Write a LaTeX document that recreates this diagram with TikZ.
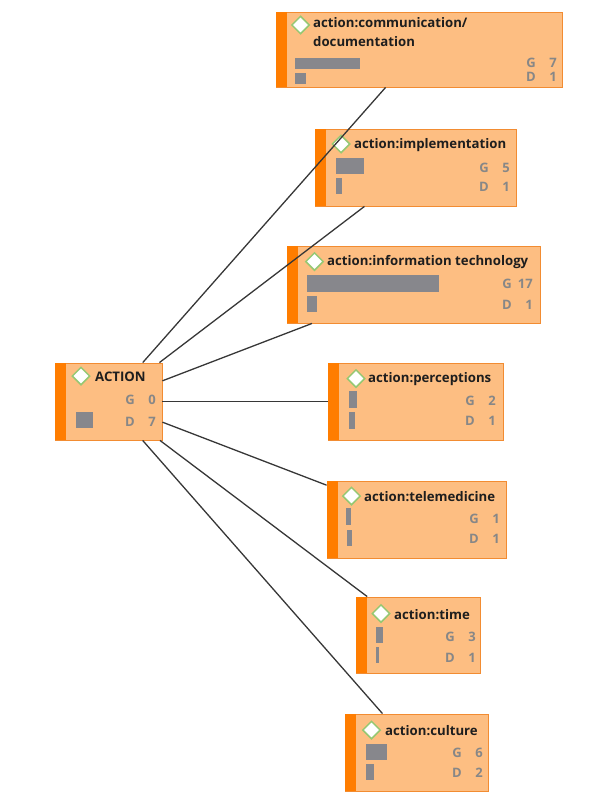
\documentclass[tikz,border=0pt]{standalone}
\usepackage{fontspec}
\setmainfont{Open Sans}
\usetikzlibrary{shapes.geometric}
\definecolor{boxfill}{RGB}{253,190,130}
\definecolor{boxline}{RGB}{242,140,50}
\definecolor{stripe}{RGB}{255,125,0}
\definecolor{gemline}{RGB}{150,200,115}
\definecolor{barfill}{RGB}{135,135,140}
\definecolor{statgray}{RGB}{135,135,135}
\definecolor{titletext}{RGB}{30,30,30}
\definecolor{linkline}{RGB}{55,55,55}
\newcommand{\gdrow}[2]{#1\hspace{6pt}\makebox[15pt][r]{#2}}
\tikzset{
  concept/.style={draw=boxline, fill=boxfill, line width=0.9pt, inner sep=0pt},
  gem/.style={diamond, draw=gemline, fill=white, line width=1.5pt, minimum size=18pt, inner sep=0pt},
  title/.style={anchor=west, inner sep=0pt, text=titletext, font=\bfseries\fontsize{13.2}{19}\selectfont},
  stat/.style={anchor=east, inner sep=0pt, text=statgray, font=\bfseries\fontsize{13}{14}\selectfont},
  bar/.style={fill=barfill},
  link/.style={draw=linkline, line width=1.3pt}
}
\begin{document}
\begin{tikzpicture}[x=1pt,y=-1pt]
  \useasboundingbox (0,0) rectangle (614,798);
  % Kasten
  \node[concept, minimum width=107pt, minimum height=77pt] (action) at (108.5,401.5) {};
  \node[concept, minimum width=286pt, minimum height=75pt] (comm) at (419,49.5) {};
  \node[concept, minimum width=201pt, minimum height=77pt] (impl) at (415.5,167.5) {};
  \node[concept, minimum width=253pt, minimum height=77pt] (infotech) at (413.5,284.5) {};
  \node[concept, minimum width=175pt, minimum height=77pt] (percep) at (415.5,401.5) {};
  \node[concept, minimum width=179pt, minimum height=77pt] (telemed) at (416.5,519.5) {};
  \node[concept, minimum width=124pt, minimum height=76pt] (time) at (418,635) {};
  \node[concept, minimum width=143pt, minimum height=77pt] (culture) at (416.5,752.5) {};
  % Streifen
  \fill[stripe] (action.north west) rectangle ++(11,77);
  \fill[stripe] (comm.north west) rectangle ++(11,75);
  \fill[stripe] (impl.north west) rectangle ++(11,77);
  \fill[stripe] (infotech.north west) rectangle ++(11,77);
  \fill[stripe] (percep.north west) rectangle ++(11,77);
  \fill[stripe] (telemed.north west) rectangle ++(11,77);
  \fill[stripe] (time.north west) rectangle ++(11,76);
  \fill[stripe] (culture.north west) rectangle ++(11,77);
  % Titel
  \node[gem] (action-gem) at (81,376) {};
  \node[title] (action-title) at (95,377) {ACTION};
  \node[gem] (comm-gem) at (300.5,25) {};
  \node[title, anchor=north west, align=left] (comm-title) at (313,17) {action:communication/\\documentation};
  \node[gem] (impl-gem) at (341,144) {};
  \node[title] (impl-title) at (354,145) {action:implementation};
  \node[gem] (infotech-gem) at (314.5,261.5) {};
  \node[title] (infotech-title) at (327,262.5) {action:information technology};
  \node[gem] (percep-gem) at (356,378.5) {};
  \node[title] (percep-title) at (368,379.5) {action:perceptions};
  \node[gem] (telemed-gem) at (351.5,496) {};
  \node[title] (telemed-title) at (364,497) {action:telemedicine};
  \node[gem] (time-gem) at (381,613.5) {};
  \node[title] (time-title) at (394,614.5) {action:time};
  \node[gem] (culture-gem) at (371.5,730) {};
  \node[title] (culture-title) at (385,731) {action:culture};
  % Zahlen
  \node[stat] (action-g) at (156,400) {\gdrow{G}{0}};
  \node[stat] (action-d) at (156,422) {\gdrow{D}{7}};
  \node[stat] (comm-g) at (557,63) {\gdrow{G}{7}};
  \node[stat] (comm-d) at (557,77) {\gdrow{D}{1}};
  \node[stat] (impl-g) at (510,168) {\gdrow{G}{5}};
  \node[stat] (impl-d) at (510,187) {\gdrow{D}{1}};
  \node[stat] (infotech-g) at (533,284) {\gdrow{G}{17}};
  \node[stat] (infotech-d) at (533,305) {\gdrow{D}{1}};
  \node[stat] (percep-g) at (496,401) {\gdrow{G}{2}};
  \node[stat] (percep-d) at (496,421) {\gdrow{D}{1}};
  \node[stat] (telemed-g) at (500,519) {\gdrow{G}{1}};
  \node[stat] (telemed-d) at (500,539) {\gdrow{D}{1}};
  \node[stat] (time-g) at (476,637) {\gdrow{G}{3}};
  \node[stat] (time-d) at (476,658) {\gdrow{D}{1}};
  \node[stat] (culture-g) at (483,753) {\gdrow{G}{6}};
  \node[stat] (culture-d) at (483,773) {\gdrow{D}{2}};
  % Balken
  \fill[bar] (76,412) rectangle (93,428);
  \fill[bar] (295,58) rectangle (360,69);
  \fill[bar] (295,73) rectangle (306,84);
  \fill[bar] (336,158) rectangle (364,174);
  \fill[bar] (336,178) rectangle (342,194);
  \fill[bar] (307,275) rectangle (439,292);
  \fill[bar] (307,296) rectangle (317,312);
  \fill[bar] (349,391) rectangle (357,408);
  \fill[bar] (349,412) rectangle (355,429);
  \fill[bar] (346,508) rectangle (351,525);
  \fill[bar] (347,530) rectangle (352,546);
  \fill[bar] (376,627) rectangle (383,643);
  \fill[bar] (376,647) rectangle (378.5,663);
  \fill[bar] (366,744) rectangle (387,760);
  \fill[bar] (366,764) rectangle (374,780);
  % Verbindungen
  \draw[link] (action) -- (comm);
  \draw[link] (action) -- (impl);
  \draw[link] (action) -- (infotech);
  \draw[link] (action) -- (percep);
  \draw[link] (action) -- (telemed);
  \draw[link] (action) -- (time);
  \draw[link] (action) -- (culture);
\end{tikzpicture}
\end{document}
